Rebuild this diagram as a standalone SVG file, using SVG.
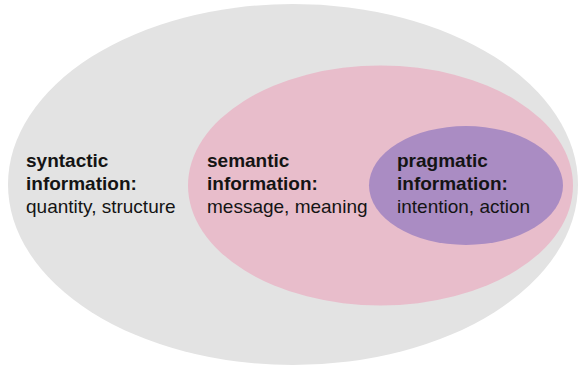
<svg xmlns="http://www.w3.org/2000/svg" width="578" height="369" viewBox="0 0 578 369">
  <style>
    .t { font-family: "Liberation Sans", Arial, Helvetica, sans-serif; font-size: 19px; fill: #141414; }
    .b { font-weight: bold; }
  </style>
  <rect width="578" height="369" fill="#ffffff"/>
  <g id="syntactic">
    <ellipse cx="293" cy="184.5" rx="285" ry="180.5" fill="#e3e3e3"/>
    <text class="t b" x="26" y="167">syntactic</text>
    <text class="t b" x="26" y="190">information:</text>
    <text class="t" x="26" y="213">quantity, structure</text>
  </g>
  <g id="semantic">
    <ellipse cx="380.5" cy="185.5" rx="192.5" ry="120" fill="#e8bdcb"/>
    <text class="t b" x="207" y="167">semantic</text>
    <text class="t b" x="207" y="190">information:</text>
    <text class="t" x="207" y="213">message, meaning</text>
  </g>
  <g id="pragmatic">
    <ellipse cx="466" cy="185.5" rx="97" ry="59.5" fill="#aa8cc3"/>
    <text class="t b" x="397" y="167">pragmatic</text>
    <text class="t b" x="397" y="190">information:</text>
    <text class="t" x="397" y="213">intention, action</text>
  </g>
  <g id="connectors"/>
</svg>
